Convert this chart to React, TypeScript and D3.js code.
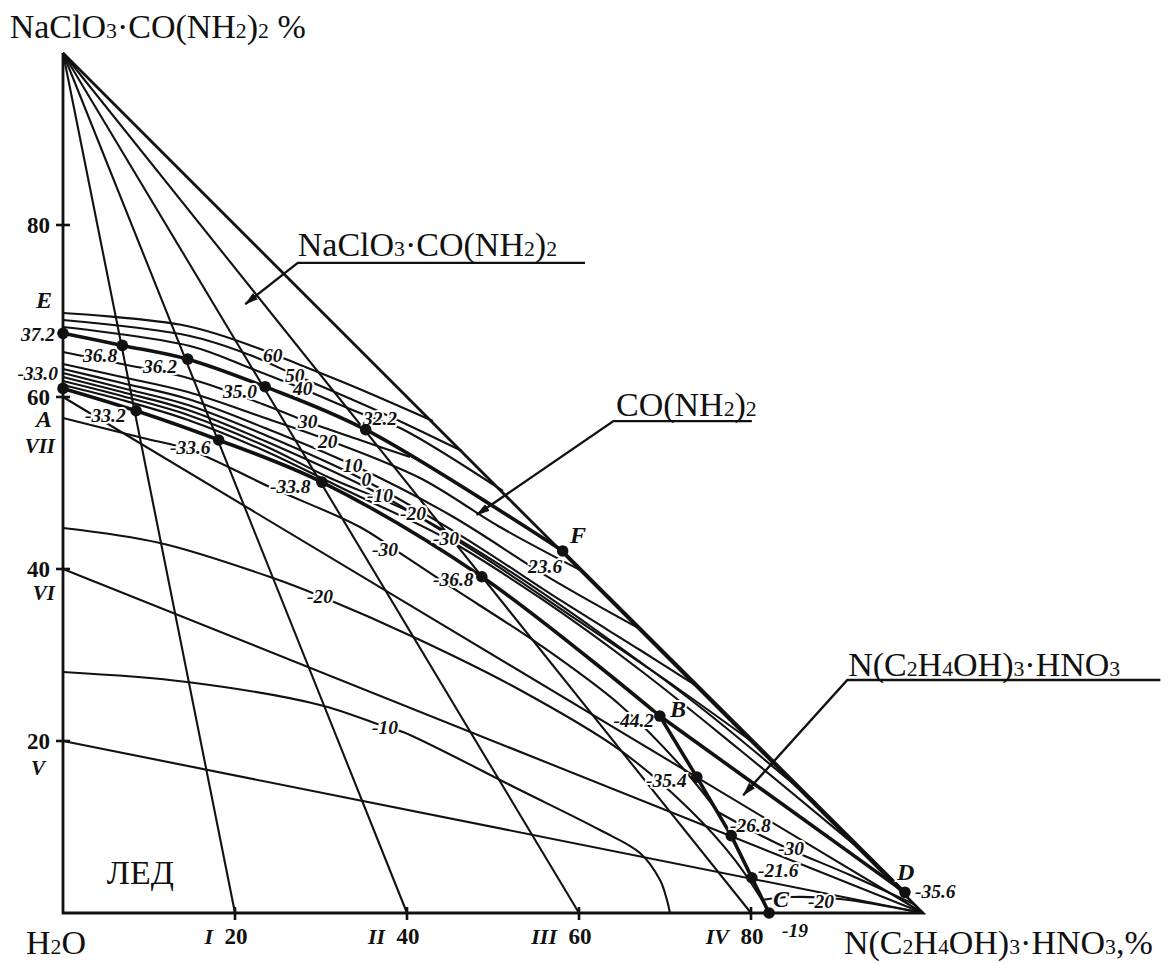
import React from 'react';
import * as d3 from 'd3';

const SERIF = '"Liberation Serif", "Times New Roman", Times, serif';

// x: N(C2H4OH)3·HNO3 %, y: NaClO3·CO(NH2)2 %
const Y_TICKS = [20, 40, 60, 80];
const X_TICKS = [20, 40, 60, 80];
const RAY_ENDS = [20, 40, 60, 80];
const RAY_NAMES = ['I', 'II', 'III', 'IV'];
const SECTION_STARTS = [20, 40, 60];

// crystallization boundaries
const LINE_EF = [[0, 67.4], [6.9, 66.0], [14.5, 64.4], [23.5, 61.2], [35.2, 56.2], [58.1, 42.1]];
const LINE_AB = [[0, 61.0], [8.5, 58.4], [18.1, 55.0], [30.1, 50.1], [48.7, 39.1], [69.4, 22.9]];
const LINE_BD = [[69.4, 22.9], [97.9, 2.4]];
const LINE_FD = [[58.1, 42.1], [97.9, 2.4]];
const LINE_BC = [[69.4, 22.9], [73.7, 15.8], [77.7, 9.0], [80.1, 4.1], [82.1, 0]];

// isotherms
const ISO_60 = [[0, 69.77], [14.42, 68.26], [23.26, 65.47], [25.58, 64.53], [33.37, 61.4], [43.02, 57.21]];
const ISO_50 = [[0, 68.95], [14.77, 67.09], [21.74, 64.88], [26.98, 62.56], [36.86, 58.26], [46.4, 53.72]];
const ISO_40 = [[0, 68.14], [14.77, 65.93], [21.74, 63.37], [27.91, 60.93], [34.53, 58.14], [39.19, 56.4], [51.16, 49.07]];
const ISO_30 = [[0, 65.23], [6.86, 63.84], [14.53, 62.21], [23.49, 59.07], [28.49, 57.09], [34.53, 55.0], [40.35, 53.02]];
const ISO_20 = [[0, 63.84], [6.86, 62.33], [14.53, 60.58], [23.49, 57.56], [30.81, 55.0], [41.51, 50.58], [50.81, 44.88], [60.58, 39.65]];
const ISO_10 = [[0, 63.26], [6.86, 61.63], [14.53, 59.77], [23.49, 56.4], [33.72, 52.09], [45.0, 46.28], [56.63, 38.95], [67.33, 32.91]];
const ISO_0 = [[0, 62.79], [6.86, 61.05], [14.53, 59.07], [23.49, 55.58], [34.77, 50.47], [46.16, 43.95], [57.79, 36.4], [67.09, 30.58], [74.07, 26.16]];
const ISO_M10 = [[0, 62.33], [6.86, 60.58], [14.53, 58.49], [23.49, 54.88], [36.98, 48.6], [48.49, 41.63], [60.12, 33.84], [71.74, 25.93], [80.81, 19.42]];
const ISO_M20 = [[0, 61.86], [6.86, 60.12], [14.53, 57.91], [23.49, 54.3], [31.05, 50.58], [40.58, 46.51], [50.81, 40.47], [62.44, 32.56], [74.07, 23.95], [87.56, 12.79]];
const ISO_M30 = [[0, 61.4], [6.86, 59.65], [14.53, 57.33], [23.49, 53.72], [33.37, 48.95], [44.42, 43.6], [55.47, 36.63], [67.09, 28.26], [78.72, 18.95], [94.3, 6.05]];
const ICE_M30 = [[0, 57.56], [9.3, 55.23], [14.77, 53.84], [24.07, 49.53], [34.53, 44.88], [39.19, 41.86], [44.77, 38.14], [55.47, 31.16], [64.77, 24.19], [71.74, 17.21], [76.16, 11.74]];
const ICE_M20 = [[0, 44.77], [11.28, 43.02], [24.42, 38.95], [29.88, 36.86], [41.51, 31.74], [53.14, 25.93], [64.77, 18.95], [72.91, 11.98], [78.14, 6.16], [81.28, 1.51]];
const ICE_M10 = [[0, 28.02], [14.42, 26.86], [29.88, 24.19], [37.56, 21.63], [39.53, 21.05], [53.14, 14.3], [62.44, 9.65], [67.09, 6.98], [69.42, 3.84], [70.23, 1.51], [70.58, 0]];
const SALT_M30 = [[76.16, 11.74], [81.05, 9.07], [84.65, 7.33], [91.51, 4.42], [99.0, 1.0]];
const SALT_M20 = [[81.28, 1.51], [84.53, 1.86], [90.35, 1.63], [100, 0]];

const THIN_CURVES = [ISO_60, ISO_50, ISO_40, ISO_30, ISO_20, ISO_10, ISO_0, ISO_M10, ISO_M20, ISO_M30, ICE_M30, ICE_M20, ICE_M10, SALT_M30, SALT_M20];

// invariant / eutonic points
const DOTS = [
  [0, 67.4], [6.9, 66.0], [14.5, 64.4], [23.5, 61.2], [35.2, 56.2], [58.1, 42.1],
  [0, 61.0], [8.5, 58.4], [18.1, 55.0], [30.1, 50.1], [48.7, 39.1], [69.4, 22.9],
  [73.7, 15.8], [77.7, 9.0], [80.1, 4.1], [82.1, 0], [97.9, 2.4],
];

// labels: text, x, y (data units, baseline), anchor, kind
const LABELS: [string, number, number, string, string][] = [
  ['E', -1.28, 70.35, 'end', 'letter'],
  ['37.2', -0.93, 66.5, 'end', 'num'],
  ['-33.0', -0.58, 62.0, 'end', 'num'],
  ['A', -1.28, 56.5, 'end', 'letter'],
  ['VII', -0.93, 53.5, 'end', 'roman'],
  ['VI', -0.93, 36.4, 'end', 'roman'],
  ['V', -2.1, 16.0, 'end', 'roman'],
  ['36.8', 2.33, 64.07, 'start', 'num'],
  ['36.2', 9.3, 62.79, 'start', 'num'],
  ['35.0', 18.6, 59.88, 'start', 'num'],
  ['32.2', 34.88, 56.74, 'start', 'num'],
  ['60', 23.26, 64.07, 'start', 'num'],
  ['50', 25.81, 61.74, 'start', 'num'],
  ['40', 26.74, 60.23, 'start', 'num'],
  ['30', 27.33, 56.4, 'start', 'num'],
  ['20', 29.65, 54.07, 'start', 'num'],
  ['10', 32.56, 51.28, 'start', 'num'],
  ['0', 34.7, 49.7, 'start', 'num'],
  ['-10', 35.35, 47.79, 'start', 'num'],
  ['-20', 39.19, 45.7, 'start', 'num'],
  ['-30', 43.02, 42.79, 'start', 'num'],
  ['-33.2', 2.56, 57.09, 'start', 'num'],
  ['-33.6', 12.44, 53.37, 'start', 'num'],
  ['-33.8', 24.07, 48.84, 'start', 'num'],
  ['-30', 35.93, 41.51, 'start', 'num'],
  ['-36.8', 43.02, 38.02, 'start', 'num'],
  ['23.6', 54.07, 39.53, 'start', 'num'],
  ['F', 58.95, 43.02, 'start', 'letter'],
  ['-20', 28.37, 36.05, 'start', 'num'],
  ['-10', 35.93, 20.81, 'start', 'num'],
  ['B', 70.58, 22.79, 'start', 'letter'],
  ['-44.2', 64.0, 21.63, 'start', 'num'],
  ['-35.4', 67.8, 14.65, 'start', 'num'],
  ['-26.8', 77.56, 9.42, 'start', 'num'],
  ['-30', 83.14, 6.74, 'start', 'num'],
  ['-21.6', 80.81, 4.19, 'start', 'num'],
  ['C', 82.56, 0.7, 'start', 'letter'],
  ['-20', 86.63, 0.58, 'start', 'num'],
  ['D', 96.98, 3.84, 'start', 'letter'],
  ['-35.6', 99.07, 1.74, 'start', 'num'],
  ['-19', 83.6, -2.79, 'start', 'num'],
];

const FIELD_LABELS: [string, number, number][] = [
  ['NaClO_3·CO(NH_2)_2', 27.3, 76.4],
  ['CO(NH_2)_2', 64.3, 57.8],
  ['N(C_2H_4OH)_3·HNO_3', 91.3, 27.6],
];
const LEADERS = [
  [[60.7, 75.6], [27.3, 75.6], [21.2, 70.8]],
  [[80.1, 57.2], [64.0, 57.2], [48.1, 46.3]],
  [[127.6, 27.1], [91.2, 27.1], [79.1, 13.7]],
];
const AXIS_TITLES: [string, number, number][] = [
  ['NaClO_3·CO(NH_2)_2 %', -6.2, 101.7],
  ['H_2O', -4.3, -4.8],
  ['N(C_2H_4OH)_3·HNO_3,%', 90.8, -4.8],
];
const ICE_LABEL: [string, number, number] = ['ЛЕД', 5.1, 3.4];

function Chem({ text, x, y, size }: { text: string; x: number; y: number; size: number }) {
  const parts = text.split(/(_\d)/).filter(Boolean);
  return (
    <text x={x} y={y} fontSize={size} fontFamily={SERIF} fill="#111">
      {parts.map((p, i) =>
        p.startsWith('_') ? (
          <tspan key={i} fontSize={size * 0.64}>{p.slice(1)}</tspan>
        ) : (
          <tspan key={i}>{p}</tspan>
        )
      )}
    </text>
  );
}

export default function App() {
  const x = d3.scaleLinear().domain([0, 100]).range([63, 923]);
  const y = d3.scaleLinear().domain([0, 100]).range([913, 53]);
  const smooth = d3.line<number[]>().x(d => x(d[0])).y(d => y(d[1])).curve(d3.curveCatmullRom.alpha(0.5));
  const straight = d3.line<number[]>().x(d => x(d[0])).y(d => y(d[1]));
  const ink = '#111';
  const thin = 2.1;
  const thick = 3.6;

  const kindStyle: Record<string, { size: number }> = {
    num: { size: 19.5 },
    letter: { size: 24 },
    roman: { size: 21 },
  };

  return (
    <svg width={1172} height={963} style={{ position: 'absolute', left: 0, top: 0, background: '#fff' }}>
      <defs>
        <marker id="arr" viewBox="0 0 14 8" refX="13" refY="4" markerWidth="14" markerHeight="8" markerUnits="userSpaceOnUse" orient="auto">
          <path d="M0,0 L14,4 L0,8 z" fill={ink} />
        </marker>
      </defs>
      <rect width={1172} height={963} fill="#fff" />

      {/* sections from apex */}
      {RAY_ENDS.map((e, i) => (
        <path key={'r' + i} d={straight([[0, 100], [e, 0]])!} stroke={ink} strokeWidth={thin} fill="none" />
      ))}
      {/* sections to salt vertex */}
      {SECTION_STARTS.map((s, i) => (
        <path key={'s' + i} d={straight([[0, s], [100, 0]])!} stroke={ink} strokeWidth={thin} fill="none" />
      ))}
      {/* isotherms */}
      {THIN_CURVES.map((c, i) => (
        <path key={'c' + i} d={smooth(c)!} stroke={ink} strokeWidth={thin} fill="none" />
      ))}

      {/* triangle */}
      <path d={straight([[0, 100], [0, 0], [100, 0], [0, 100]])!} stroke={ink} strokeWidth={2.8} fill="none" strokeLinejoin="miter" />
      {Y_TICKS.map(t => (
        <line key={'yt' + t} x1={x(0) - 7} x2={x(0) + 7} y1={y(t)} y2={y(t)} stroke={ink} strokeWidth={2.6} />
      ))}
      {X_TICKS.map(t => (
        <line key={'xt' + t} x1={x(t)} x2={x(t)} y1={y(0) - 6} y2={y(0) + 7} stroke={ink} strokeWidth={2.6} />
      ))}

      {/* boundaries */}
      <path d={smooth(LINE_EF)!} stroke={ink} strokeWidth={thick} fill="none" />
      <path d={smooth(LINE_AB)!} stroke={ink} strokeWidth={thick} fill="none" />
      <path d={straight(LINE_BD)!} stroke={ink} strokeWidth={thick} fill="none" />
      <path d={straight(LINE_FD)!} stroke={ink} strokeWidth={2.8} fill="none" />
      <path d={straight(LINE_BC)!} stroke={ink} strokeWidth={thick} fill="none" strokeLinejoin="round" />

      {/* leaders */}
      {LEADERS.map((l, i) => (
        <path key={'l' + i} d={straight(l)!} stroke={ink} strokeWidth={2.4} fill="none" markerEnd="url(#arr)" />
      ))}

      {/* labels */}
      {LABELS.map(([t, lx, ly, anchor, kind], i) => (
        <text
          key={'lb' + i}
          x={x(lx)}
          y={y(ly)}
          textAnchor={anchor}
          fontFamily={SERIF}
          fontWeight="bold"
          fontStyle="italic"
          fontSize={kindStyle[kind].size}
          fill={ink}
          stroke="#fff"
          strokeWidth={4}
          paintOrder="stroke"
        >
          {t}
        </text>
      ))}

      {/* dots */}
      {DOTS.map((d, i) => (
        <circle key={'d' + i} cx={x(d[0])} cy={y(d[1])} r={5.8} fill={ink} />
      ))}

      {/* tick labels */}
      {Y_TICKS.map(t => (
        <text key={'yl' + t} x={x(0) - 13} y={y(t) + 8} textAnchor="end" fontFamily={SERIF} fontWeight="bold" fontSize={23} fill={ink}>
          {t}
        </text>
      ))}
      {X_TICKS.map((t, i) => (
        <g key={'xl' + t}>
          <text x={x(t) + 1} y={y(0) + 31} textAnchor="middle" fontFamily={SERIF} fontWeight="bold" fontSize={23} fill={ink}>
            {t}
          </text>
          <text x={x(t) - 22} y={y(0) + 31} textAnchor="end" fontFamily={SERIF} fontWeight="bold" fontStyle="italic" fontSize={22} fill={ink}>
            {RAY_NAMES[i]}
          </text>
        </g>
      ))}

      {/* field labels */}
      {FIELD_LABELS.map(([t, fx, fy], i) => (
        <Chem key={'f' + i} text={t} x={x(fx)} y={y(fy)} size={34} />
      ))}
      {AXIS_TITLES.map(([t, fx, fy], i) => (
        <Chem key={'a' + i} text={t} x={x(fx)} y={y(fy)} size={34} />
      ))}
      <text x={x(ICE_LABEL[1])} y={y(ICE_LABEL[2])} fontFamily={SERIF} fontSize={34} fill={ink}>
        {ICE_LABEL[0]}
      </text>
    </svg>
  );
}
